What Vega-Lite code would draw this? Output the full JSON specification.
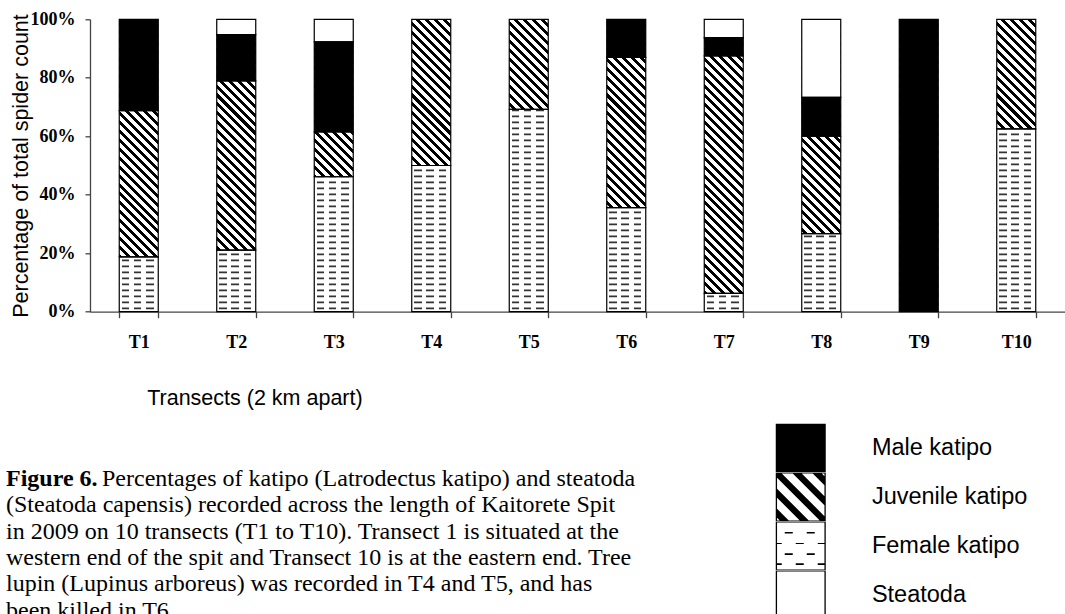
{
  "$schema": "https://vega.github.io/schema/vega-lite/v6.json",
  "autosize": {"type": "none"},
  "width": 975,
  "height": 292.4,
  "padding": {"left": 90, "top": 19.3, "right": 0, "bottom": 302.3},
  "background": "white",
  "config": {"view": {"stroke": null}, "axis": {"grid": false}},
  "title": {
    "text": "Figure 6.",
    "subtitle": [
      "\u200b\u00a0\u00a0\u00a0\u00a0\u00a0\u00a0\u00a0\u00a0\u00a0\u00a0\u00a0\u00a0\u00a0\u00a0\u00a0\u00a0Percentages of katipo (Latrodectus katipo) and steatoda",
      "(Steatoda capensis) recorded across the length of Kaitorete Spit",
      "in 2009 on 10 transects (T1 to T10). Transect 1 is situated at the",
      "western end of the spit and Transect 10 is at the eastern end. Tree",
      "lupin (Lupinus arboreus) was recorded in T4 and T5, and has",
      "been killed in T6."
    ],
    "orient": "bottom",
    "anchor": "start",
    "frame": "group",
    "offset": -152,
    "dx": -84,
    "font": "Liberation Serif",
    "fontSize": 24,
    "fontWeight": "bold",
    "color": "black",
    "subtitleFont": "Liberation Serif",
    "subtitleFontSize": 24,
    "subtitleFontWeight": "normal",
    "subtitleColor": "black",
    "subtitleLineHeight": 26.3,
    "subtitlePadding": -24
  },
  "data": {
    "values": [
      {"transect": "T1", "series": "Female katipo", "pct": 18.75},
      {"transect": "T1", "series": "Juvenile katipo", "pct": 50},
      {"transect": "T1", "series": "Male katipo", "pct": 31.25},
      {"transect": "T2", "series": "Female katipo", "pct": 21.05},
      {"transect": "T2", "series": "Juvenile katipo", "pct": 57.89},
      {"transect": "T2", "series": "Male katipo", "pct": 15.79},
      {"transect": "T2", "series": "Steatoda", "pct": 5.27},
      {"transect": "T3", "series": "Female katipo", "pct": 46.15},
      {"transect": "T3", "series": "Juvenile katipo", "pct": 15.38},
      {"transect": "T3", "series": "Male katipo", "pct": 30.77},
      {"transect": "T3", "series": "Steatoda", "pct": 7.7},
      {"transect": "T4", "series": "Female katipo", "pct": 50},
      {"transect": "T4", "series": "Juvenile katipo", "pct": 50},
      {"transect": "T5", "series": "Female katipo", "pct": 69.23},
      {"transect": "T5", "series": "Juvenile katipo", "pct": 30.77},
      {"transect": "T6", "series": "Female katipo", "pct": 35.6},
      {"transect": "T6", "series": "Juvenile katipo", "pct": 51.4},
      {"transect": "T6", "series": "Male katipo", "pct": 13.0},
      {"transect": "T7", "series": "Female katipo", "pct": 6.25},
      {"transect": "T7", "series": "Juvenile katipo", "pct": 81.25},
      {"transect": "T7", "series": "Male katipo", "pct": 6.25},
      {"transect": "T7", "series": "Steatoda", "pct": 6.25},
      {"transect": "T8", "series": "Female katipo", "pct": 26.67},
      {"transect": "T8", "series": "Juvenile katipo", "pct": 33.33},
      {"transect": "T8", "series": "Male katipo", "pct": 13.33},
      {"transect": "T8", "series": "Steatoda", "pct": 26.67},
      {"transect": "T9", "series": "Male katipo", "pct": 100},
      {"transect": "T10", "series": "Female katipo", "pct": 62.5},
      {"transect": "T10", "series": "Juvenile katipo", "pct": 37.5}
    ]
  },
  "transform": [
    {"stack": "pct", "groupby": ["transect"], "sort": [{"field": "series", "order": "ascending"}], "as": ["y0", "y1"]}
  ],
  "encoding": {
    "x": {
      "field": "transect",
      "type": "nominal",
      "sort": ["T1", "T2", "T3", "T4", "T5", "T6", "T7", "T8", "T9", "T10"],
      "scale": {"paddingInner": 0.6, "paddingOuter": 0.3},
      "axis": {
        "title": "Transects (2 km apart)",
        "titleFont": "Liberation Sans",
        "titleFontSize": 21.5,
        "titleFontWeight": "normal",
        "titleColor": "black",
        "titleX": 56.7,
        "titleY": 93,
        "titleAlign": "left",
        "titleAnchor": "start",
        "titleBaseline": "alphabetic",
        "labelAngle": 0,
        "labelFont": "Liberation Serif",
        "labelFontWeight": "bold",
        "labelFontSize": 18,
        "labelColor": "black",
        "labelPadding": 16,
        "tickBand": "extent",
        "tickSize": 6,
        "tickColor": "#444",
        "tickWidth": 1.3,
        "domainColor": "#444",
        "domainWidth": 1.3
      }
    }
  },
  "layer": [
    {
      "mark": {
        "type": "bar",
        "fill": {
          "gradient": "linear", "x1": 0, "y1": 1, "x2": 0.14853, "y2": -0.11357,
          "stops": [
            {"offset": 0, "color": "#000"}, {"offset": 0.0122, "color": "#000"}, {"offset": 0.0122, "color": "#fff"},
            {"offset": 0.0270, "color": "#fff"}, {"offset": 0.0270, "color": "#000"}, {"offset": 0.0392, "color": "#000"}, {"offset": 0.0392, "color": "#fff"},
            {"offset": 0.0541, "color": "#fff"}, {"offset": 0.0541, "color": "#000"}, {"offset": 0.0662, "color": "#000"}, {"offset": 0.0662, "color": "#fff"},
            {"offset": 0.0811, "color": "#fff"}, {"offset": 0.0811, "color": "#000"}, {"offset": 0.0932, "color": "#000"}, {"offset": 0.0932, "color": "#fff"},
            {"offset": 0.1081, "color": "#fff"}, {"offset": 0.1081, "color": "#000"}, {"offset": 0.1203, "color": "#000"}, {"offset": 0.1203, "color": "#fff"},
            {"offset": 0.1351, "color": "#fff"}, {"offset": 0.1351, "color": "#000"}, {"offset": 0.1473, "color": "#000"}, {"offset": 0.1473, "color": "#fff"},
            {"offset": 0.1622, "color": "#fff"}, {"offset": 0.1622, "color": "#000"}, {"offset": 0.1743, "color": "#000"}, {"offset": 0.1743, "color": "#fff"},
            {"offset": 0.1892, "color": "#fff"}, {"offset": 0.1892, "color": "#000"}, {"offset": 0.2014, "color": "#000"}, {"offset": 0.2014, "color": "#fff"},
            {"offset": 0.2162, "color": "#fff"}, {"offset": 0.2162, "color": "#000"}, {"offset": 0.2284, "color": "#000"}, {"offset": 0.2284, "color": "#fff"},
            {"offset": 0.2432, "color": "#fff"}, {"offset": 0.2432, "color": "#000"}, {"offset": 0.2554, "color": "#000"}, {"offset": 0.2554, "color": "#fff"},
            {"offset": 0.2703, "color": "#fff"}, {"offset": 0.2703, "color": "#000"}, {"offset": 0.2824, "color": "#000"}, {"offset": 0.2824, "color": "#fff"},
            {"offset": 0.2973, "color": "#fff"}, {"offset": 0.2973, "color": "#000"}, {"offset": 0.3095, "color": "#000"}, {"offset": 0.3095, "color": "#fff"},
            {"offset": 0.3243, "color": "#fff"}, {"offset": 0.3243, "color": "#000"}, {"offset": 0.3365, "color": "#000"}, {"offset": 0.3365, "color": "#fff"},
            {"offset": 0.3514, "color": "#fff"}, {"offset": 0.3514, "color": "#000"}, {"offset": 0.3635, "color": "#000"}, {"offset": 0.3635, "color": "#fff"},
            {"offset": 0.3784, "color": "#fff"}, {"offset": 0.3784, "color": "#000"}, {"offset": 0.3905, "color": "#000"}, {"offset": 0.3905, "color": "#fff"},
            {"offset": 0.4054, "color": "#fff"}, {"offset": 0.4054, "color": "#000"}, {"offset": 0.4176, "color": "#000"}, {"offset": 0.4176, "color": "#fff"},
            {"offset": 0.4324, "color": "#fff"}, {"offset": 0.4324, "color": "#000"}, {"offset": 0.4446, "color": "#000"}, {"offset": 0.4446, "color": "#fff"},
            {"offset": 0.4595, "color": "#fff"}, {"offset": 0.4595, "color": "#000"}, {"offset": 0.4716, "color": "#000"}, {"offset": 0.4716, "color": "#fff"},
            {"offset": 0.4865, "color": "#fff"}, {"offset": 0.4865, "color": "#000"}, {"offset": 0.4986, "color": "#000"}, {"offset": 0.4986, "color": "#fff"},
            {"offset": 0.5135, "color": "#fff"}, {"offset": 0.5135, "color": "#000"}, {"offset": 0.5257, "color": "#000"}, {"offset": 0.5257, "color": "#fff"},
            {"offset": 0.5405, "color": "#fff"}, {"offset": 0.5405, "color": "#000"}, {"offset": 0.5527, "color": "#000"}, {"offset": 0.5527, "color": "#fff"},
            {"offset": 0.5676, "color": "#fff"}, {"offset": 0.5676, "color": "#000"}, {"offset": 0.5797, "color": "#000"}, {"offset": 0.5797, "color": "#fff"},
            {"offset": 0.5946, "color": "#fff"}, {"offset": 0.5946, "color": "#000"}, {"offset": 0.6068, "color": "#000"}, {"offset": 0.6068, "color": "#fff"},
            {"offset": 0.6216, "color": "#fff"}, {"offset": 0.6216, "color": "#000"}, {"offset": 0.6338, "color": "#000"}, {"offset": 0.6338, "color": "#fff"},
            {"offset": 0.6486, "color": "#fff"}, {"offset": 0.6486, "color": "#000"}, {"offset": 0.6608, "color": "#000"}, {"offset": 0.6608, "color": "#fff"},
            {"offset": 0.6757, "color": "#fff"}, {"offset": 0.6757, "color": "#000"}, {"offset": 0.6878, "color": "#000"}, {"offset": 0.6878, "color": "#fff"},
            {"offset": 0.7027, "color": "#fff"}, {"offset": 0.7027, "color": "#000"}, {"offset": 0.7149, "color": "#000"}, {"offset": 0.7149, "color": "#fff"},
            {"offset": 0.7297, "color": "#fff"}, {"offset": 0.7297, "color": "#000"}, {"offset": 0.7419, "color": "#000"}, {"offset": 0.7419, "color": "#fff"},
            {"offset": 0.7568, "color": "#fff"}, {"offset": 0.7568, "color": "#000"}, {"offset": 0.7689, "color": "#000"}, {"offset": 0.7689, "color": "#fff"},
            {"offset": 0.7838, "color": "#fff"}, {"offset": 0.7838, "color": "#000"}, {"offset": 0.7959, "color": "#000"}, {"offset": 0.7959, "color": "#fff"},
            {"offset": 0.8108, "color": "#fff"}, {"offset": 0.8108, "color": "#000"}, {"offset": 0.8230, "color": "#000"}, {"offset": 0.8230, "color": "#fff"},
            {"offset": 0.8378, "color": "#fff"}, {"offset": 0.8378, "color": "#000"}, {"offset": 0.8500, "color": "#000"}, {"offset": 0.8500, "color": "#fff"},
            {"offset": 0.8649, "color": "#fff"}, {"offset": 0.8649, "color": "#000"}, {"offset": 0.8770, "color": "#000"}, {"offset": 0.8770, "color": "#fff"},
            {"offset": 0.8919, "color": "#fff"}, {"offset": 0.8919, "color": "#000"}, {"offset": 0.9041, "color": "#000"}, {"offset": 0.9041, "color": "#fff"},
            {"offset": 0.9189, "color": "#fff"}, {"offset": 0.9189, "color": "#000"}, {"offset": 0.9311, "color": "#000"}, {"offset": 0.9311, "color": "#fff"},
            {"offset": 0.9459, "color": "#fff"}, {"offset": 0.9459, "color": "#000"}, {"offset": 0.9581, "color": "#000"}, {"offset": 0.9581, "color": "#fff"},
            {"offset": 0.9730, "color": "#fff"}, {"offset": 0.9730, "color": "#000"}, {"offset": 0.9851, "color": "#000"}, {"offset": 0.9851, "color": "#fff"},
            {"offset": 1, "color": "#fff"}
          ]
        }
      },
      "encoding": {
        "y": {
          "aggregate": "sum",
          "field": "pct",
          "type": "quantitative",
          "scale": {"domain": [0, 100]},
          "axis": {
            "title": "Percentage of total spider count",
            "values": [0, 20, 40, 60, 80, 100],
            "labelExpr": "datum.value + '%'",
            "titleFont": "Liberation Sans",
            "titleFontSize": 21.5,
            "titleFontWeight": "normal",
            "titleColor": "black",
            "titleAngle": -90,
            "titleX": -62.7,
            "titleY": 146.2,
            "titleAlign": "center",
            "titleBaseline": "alphabetic",
            "labelFont": "Liberation Serif",
            "labelFontWeight": "bold",
            "labelFontSize": 18,
            "labelColor": "black",
            "labelPadding": 10,
            "tickSize": 5,
            "tickColor": "#444",
            "tickWidth": 1.3,
            "domainColor": "#444",
            "domainWidth": 1.3
          }
        }
      }
    },
    {
      "transform": [{"filter": "datum.series === 'Female katipo'"}],
      "mark": {"type": "bar", "fill": "white"},
      "encoding": {
        "y": {"field": "y1", "type": "quantitative", "scale": {"domain": [0, 100]}},
        "y2": {"field": "y0"}
      }
    },
    {
      "transform": [{"filter": "datum.series === 'Female katipo'"}],
      "mark": {"type": "rule", "stroke": "#333", "strokeWidth": 38.6, "strokeDash": [1.6, 4.4], "strokeDashOffset": -2.5},
      "encoding": {
        "y": {"field": "y0", "type": "quantitative", "scale": {"domain": [0, 100]}},
        "y2": {"field": "y1"}
      }
    },
    {
      "transform": [{"filter": "datum.series === 'Female katipo'"}],
      "mark": {
        "type": "bar",
        "fill": {
          "gradient": "linear", "x1": 0, "y1": 0, "x2": 1, "y2": 0,
          "stops": [
            {"offset": 0, "color": "#fff"}, {"offset": 0.064, "color": "#fff"},
            {"offset": 0.064, "color": "rgba(255,255,255,0)"}, {"offset": 0.256, "color": "rgba(255,255,255,0)"},
            {"offset": 0.256, "color": "#fff"}, {"offset": 0.372, "color": "#fff"},
            {"offset": 0.372, "color": "rgba(255,255,255,0)"}, {"offset": 0.564, "color": "rgba(255,255,255,0)"},
            {"offset": 0.564, "color": "#fff"}, {"offset": 0.692, "color": "#fff"},
            {"offset": 0.692, "color": "rgba(255,255,255,0)"}, {"offset": 0.885, "color": "rgba(255,255,255,0)"},
            {"offset": 0.885, "color": "#fff"}, {"offset": 1, "color": "#fff"}
          ]
        }
      },
      "encoding": {
        "y": {"field": "y1", "type": "quantitative", "scale": {"domain": [0, 100]}},
        "y2": {"field": "y0"}
      }
    },
    {
      "transform": [{"filter": "datum.series === 'Male katipo'"}],
      "mark": {"type": "bar", "fill": "black"},
      "encoding": {
        "y": {"field": "y1", "type": "quantitative", "scale": {"domain": [0, 100]}},
        "y2": {"field": "y0"}
      }
    },
    {
      "transform": [{"filter": "datum.series === 'Steatoda'"}],
      "mark": {"type": "bar", "fill": "white"},
      "encoding": {
        "y": {"field": "y1", "type": "quantitative", "scale": {"domain": [0, 100]}},
        "y2": {"field": "y0"}
      }
    },
    {
      "mark": {"type": "bar", "fill": "transparent", "stroke": "#000", "strokeWidth": 1.2},
      "encoding": {
        "y": {"field": "y1", "type": "quantitative", "scale": {"domain": [0, 100]}},
        "y2": {"field": "y0"}
      }
    },
    {
      "mark": {"type": "point", "filled": true, "fill": "#000", "opacity": 0, "size": 4, "strokeWidth": 0},
      "encoding": {
        "y": {"field": "y1", "type": "quantitative", "scale": {"domain": [0, 100]}},
        "shape": {
          "field": "series",
          "type": "nominal",
          "scale": {
            "domain": ["Male katipo", "Juvenile katipo", "Female katipo", "Steatoda"],
            "range": [
              "M-25,-24.2H25V24.2H-25Z",
              "M-25,-24.2H25V24.2H-25ZM-23.7,-23.5V23.5H23.7V-23.5ZM-19,-23.5L-23.7,-23.5L-23.7,-19.2L19,23.5L23.7,23.5L23.7,19.2ZM-8,-23.5L1,-23.5L23.7,-0.8L23.7,8.2ZM8,23.5L-1,23.5L-23.7,0.8L-23.7,-8.2ZM12,-23.5L21,-23.5L23.7,-20.8L23.7,-11.8ZM-12,23.5L-21,23.5L-23.7,20.8L-23.7,11.8Z",
              "M-25,-24.2H25V24.2H-25ZM-23.7,-23.5V23.5H23.7V-23.5ZM-16,-14.05H-8V-12.35H-16ZM6,-14.05H14V-12.35H6ZM-23.7,-3H-19V-2H-23.7ZM-5,-3H3V-2H-5ZM17,-3H23.7V-2H17ZM-16,7.25H-8V8.95H-16ZM6,7.25H14V8.95H6ZM-23.7,17.25H-19V18.95H-23.7ZM-5,17.25H3V18.95H-5ZM17,17.25H23.7V18.95H17Z",
              "M-25,-24.2H25V24.2H-25ZM-23.7,-23.5V23.5H23.7V-23.5Z"
            ]
          },
          "legend": {
            "title": null,
            "orient": "none",
            "legendX": 699,
            "legendY": 416.9,
            "padding": 0,
            "rowPadding": 0,
            "symbolSize": 4,
            "symbolFillColor": "#000",
            "symbolStrokeWidth": 0,
            "symbolOpacity": 1,
            "labelFont": "Liberation Sans",
            "labelFontSize": 23.5,
            "labelColor": "black",
            "labelOffset": 59.4,
            "labelLimit": 300
          }
        }
      }
    }
  ]
}
